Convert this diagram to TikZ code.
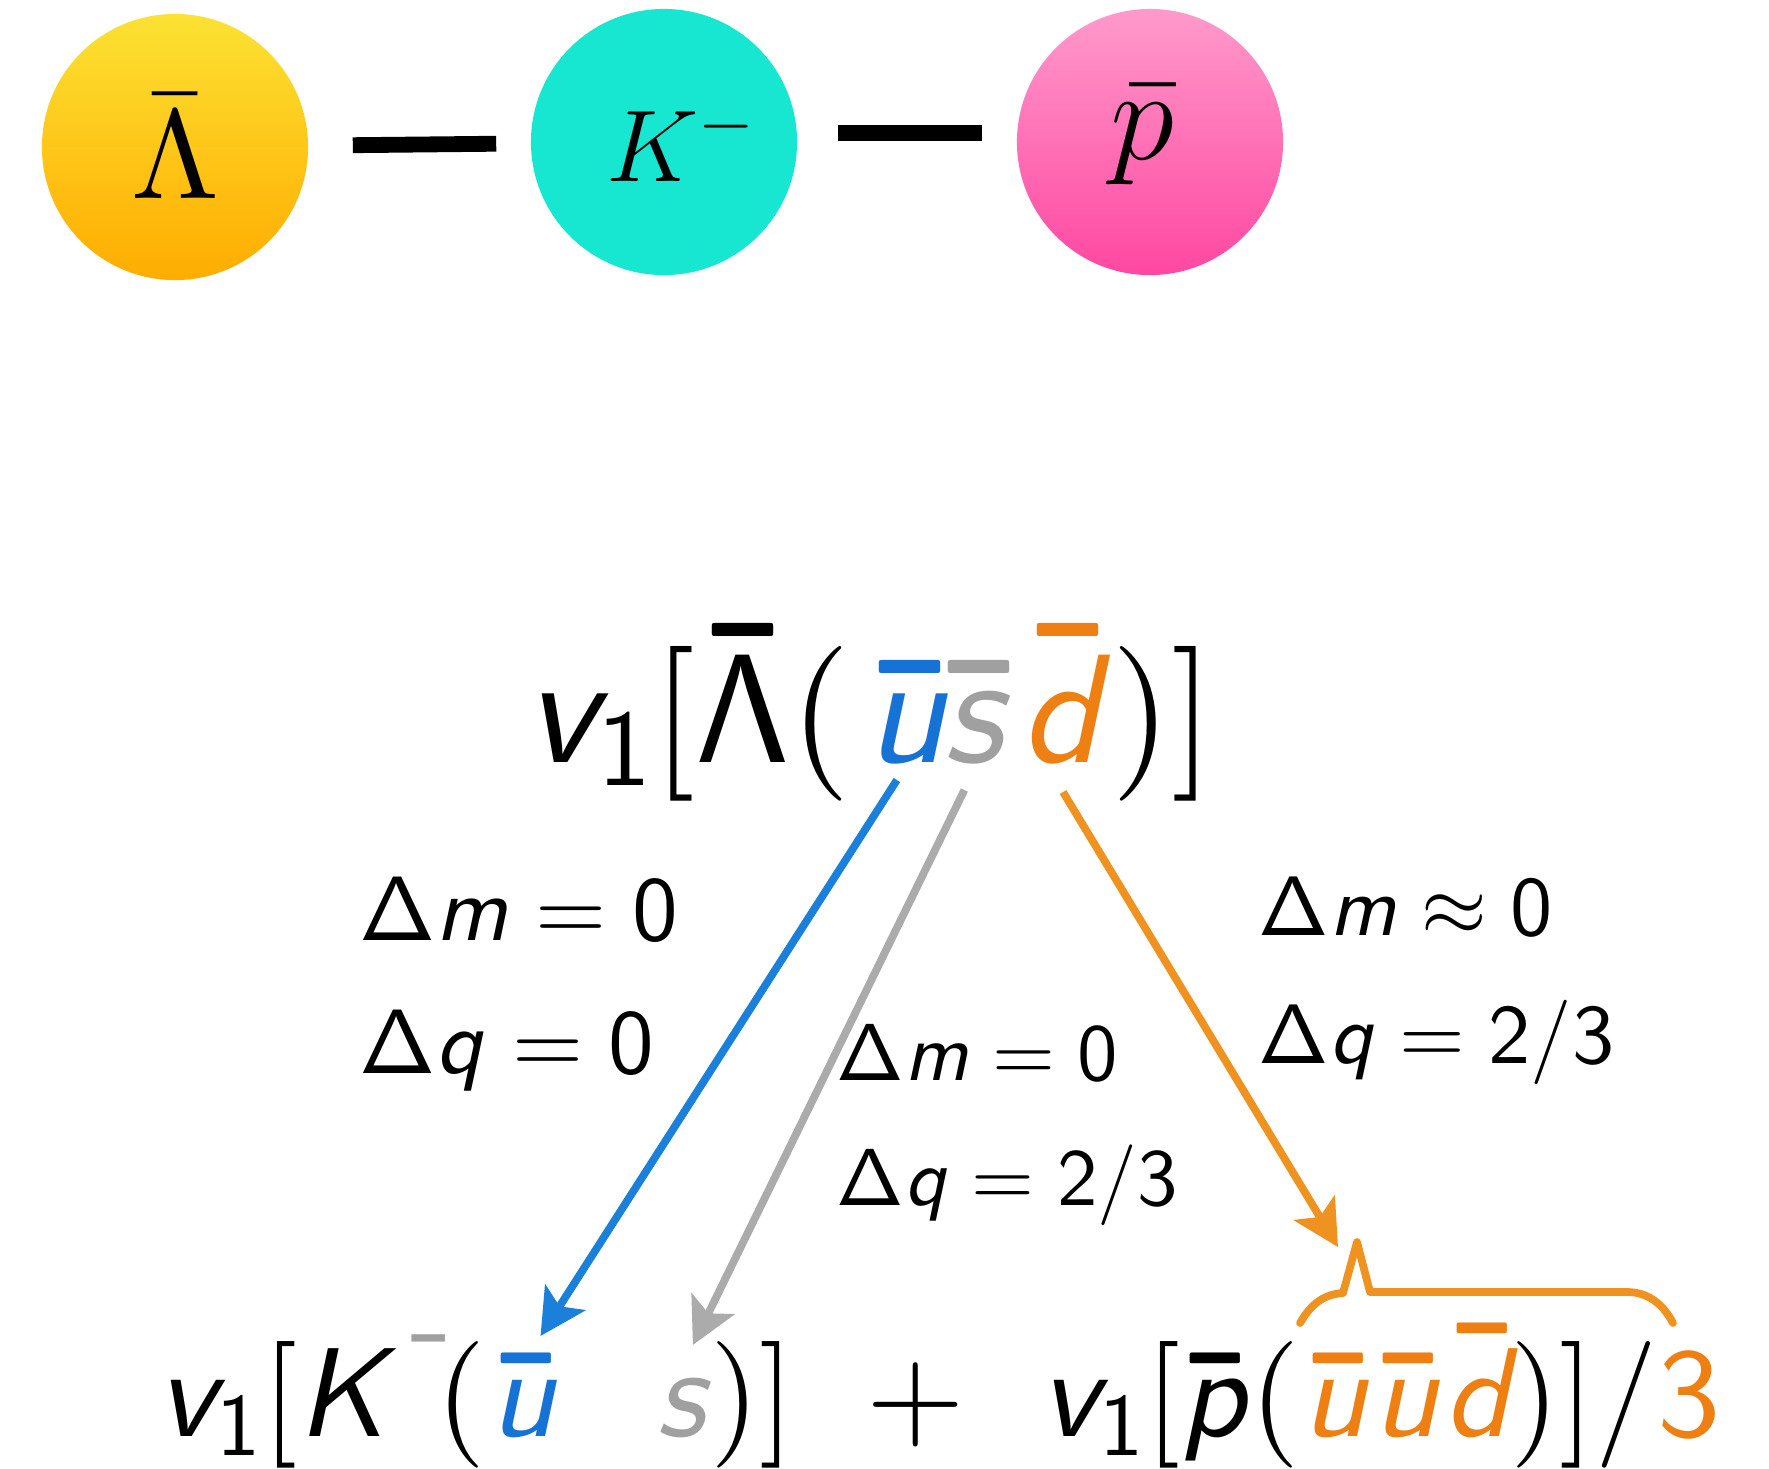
\RequirePackage{fix-cm}
\documentclass[tikz,border=0pt]{standalone}
\usepackage{amsmath}
\usetikzlibrary{arrows.meta, positioning}
\definecolor{lamtop}{HTML}{FCE233}
\definecolor{lambot}{HTML}{FFAC00}
\definecolor{kaontop}{HTML}{17E7D0}
\definecolor{kaonbot}{HTML}{17E7D0}
\definecolor{pbartop}{HTML}{FF9ACB}
\definecolor{pbarbot}{HTML}{FF47A1}
\definecolor{qblue}{HTML}{1672D4}
\definecolor{qgray}{HTML}{A0A0A0}
\definecolor{qorange}{HTML}{EE7F12}
\definecolor{ablue}{HTML}{1A80DA}
\definecolor{agray}{HTML}{ABABAB}
\definecolor{aorange}{HTML}{F0921F}
% scaled-up 10pt designs
\DeclareFontFamily{OT1}{cmssx}{\hyphenchar\font=-1}
\DeclareFontShape{OT1}{cmssx}{m}{n}{<-> cmss10}{}
\DeclareFontShape{OT1}{cmssx}{m}{sl}{<-> cmssi10}{}
\DeclareFontShape{OT1}{cmssx}{bx}{n}{<-> cmssbx10}{}
\DeclareFontFamily{OT1}{cmrx}{\hyphenchar\font=-1}
\DeclareFontShape{OT1}{cmrx}{m}{n}{<-> cmr10}{}
\DeclareFontFamily{OMS}{cmsyx}{\skewchar\font=48}
\DeclareFontShape{OMS}{cmsyx}{m}{n}{<-> cmsy10}{}
\DeclareSymbolFont{operators}{OT1}{cmrx}{m}{n}
\DeclareSymbolFont{symbols}{OMS}{cmsyx}{m}{n}
\DeclareSymbolFont{sfbx}{OT1}{cmssx}{bx}{n}
% sans math letters and heavy bar
\DeclareMathAlphabet{\msf}{OT1}{cmssx}{m}{n}
\DeclareMathAlphabet{\msl}{OT1}{cmssx}{m}{sl}
\DeclareMathAccent{\qbar}{\mathord}{sfbx}{"16}
\tikzset{
  hadron/.style={circle, minimum size=2.66cm, inner sep=0pt,
                 top color=#1top, bottom color=#1bot},
  hsize/.style={font=\fontsize{#1}{#1}\selectfont},
  link/.style={line width=4.5pt, black},
  eq/.style={inner sep=0pt, anchor=base west, font=\fontsize{#1}{#1}\selectfont},
  lbl/.style={inner sep=0pt, anchor=base west, font=\fontsize{#1}{#1}\selectfont},
  qarr/.style={-{Stealth[length=13pt, width=13.5pt, inset=3pt]}, line width=2.2pt, draw=#1},
  qbrace/.style={line width=2.2pt, aorange, line join=round, line cap=round},
}

\begin{document}
\begin{tikzpicture}[x=0.01cm, y=-0.01cm]
  \useasboundingbox (0,0) rectangle (1769,1468);

  % hadrons
  \node[hadron=lam] (lam) at (175,147) {};
  \node[hadron=kaon] (kaon) at (664,142) {};
  \node[hadron=pbar] (pbar) at (1150,142) {};
  \node[hsize=36] (lamtxt) at (lam) {$\bar{\Lambda}$};
  \node[hsize=29] (kaontxt) at ([xshift=0.17cm]kaon) {$K^-$};
  \node[hsize=37] (pbartxt) at ([xshift=-0.08cm, yshift=0.07cm]pbar) {$\bar{p}$};
  \draw[link, shorten <=0.44cm, shorten >=0.34cm] (lam) -- (kaon);
  \draw[link, shorten <=0.40cm, shorten >=0.34cm] ([yshift=0.09cm]kaon.east) -- ([yshift=0.09cm]pbar.west);

  % parent
  \node[eq=44] (toppre) at (525,762) {$\msl{v}_{\msf{1}}[\qbar{\msf{\Lambda}}($};
  \node[eq=44, text=qblue] (topu) at (866,762) {$\qbar{\msl{u}}$};
  \node[eq=44, text=qgray] (tops) at (943,762) {$\qbar{\msl{s}}$};
  \node[eq=44, text=qorange] (topd) at (1020,762) {$\qbar{\msl{d}}$};
  \node[eq=44] (toppost) at (1111,762) {$)]$};

  % daughters
  \node[eq=36] (botpre) at (157,1436) {$\msl{v}_{\msf{1}}[\msl{K}$};
  \node[inner sep=0pt, hsize=36, text=qgray] (kminus) at (432,1338) {\usefont{OT1}{cmssx}{m}{n}-};
  \node[eq=36] (botopen) at (436,1436) {$($};
  \node[eq=36, text=qblue] (botu) at (490,1436) {$\qbar{\msl{u}}$};
  \node[eq=36, text=qgray] (bots) at (656,1436) {$\msl{s}$};
  \node[eq=36] (botclose) at (710,1436) {$)]$};
  \node[eq=36] (plus) at (866,1436) {$+$};
  \node[eq=36] (botpre2) at (1040,1436) {$\msl{v}_{\msf{1}}[\qbar{\msl{p}}($};
  \node[eq=36, text=qorange] (botq) at (1302,1436) {$\qbar{\msl{u}}\qbar{\msl{u}}\qbar{\msl{d}}$};
  \node[eq=36] (botpost) at (1510,1436) {$)]/\textcolor{qorange}{\msf{3}}$};

  % brace over the antiproton
  \coordinate (dtip) at (1357,1242);
  \draw[qbrace] (1300,1323) .. controls (1312,1302) and (1326,1294) .. (1343,1293)
    -- (dtip) -- (1370,1292) -- (1627,1292)
    .. controls (1648,1292) and (1663,1304) .. (1673,1323);

  % flow of the quarks
  \draw[qarr=ablue] ([xshift=-0.13cm, yshift=-0.18cm]topu.base) -- ([xshift=0.145cm, yshift=1cm]botu.base);
  \draw[qarr=agray] ([xshift=-0.15cm, yshift=-0.28cm]tops.base) -- ([xshift=0.07cm, yshift=0.91cm]bots.base);
  \draw[qarr=aorange] ([xshift=-0.05cm, yshift=-0.3cm]topd.base) -- ([xshift=-0.19cm, yshift=-0.05cm]dtip);

  % mass and charge shifts
  \node[lbl=26] (lm) at (359,940) {$\msf{\Delta}\msl{m}=\msf{0}$};
  \node[lbl=26] (lq) at (359,1073) {$\msf{\Delta}\msl{q}=\msf{0}$};
  \node[lbl=23] (mm) at (836,1080) {$\msf{\Delta}\msl{m}=\msf{0}$};
  \node[lbl=23] (mq) at (836,1205) {$\msf{\Delta}\msl{q}=\msf{2}/\msf{3}$};
  \node[lbl=24] (rm) at (1258,935) {$\msf{\Delta}\msl{m}\approx\msf{0}$};
  \node[lbl=24] (rq) at (1258,1063) {$\msf{\Delta}\msl{q}=\msf{2}/\msf{3}$};
\end{tikzpicture}
\end{document}
